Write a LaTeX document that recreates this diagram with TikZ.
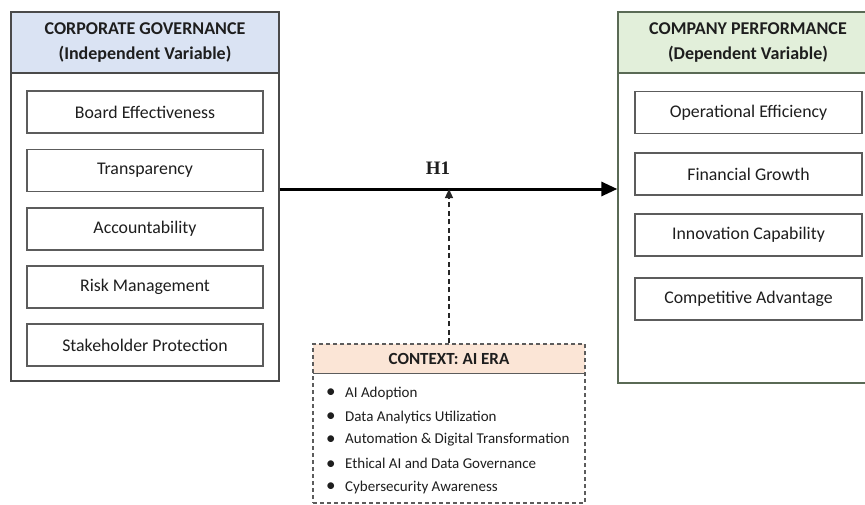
\documentclass[tikz,border=0pt]{standalone}
\usepackage{fontspec}
\setmainfont{Carlito}
\newfontfamily\hyfont{Liberation Serif}
\usetikzlibrary{arrows.meta}
\definecolor{cgblue}{HTML}{DAE3F3}
\definecolor{cpgreen}{HTML}{E2EFDA}
\definecolor{ctxpeach}{HTML}{FBE5D6}
\definecolor{framegray}{HTML}{4A4A4A}
\definecolor{framegreen}{HTML}{5A6A55}
\definecolor{itemgray}{HTML}{5C5C5C}
\definecolor{txt}{HTML}{1E1E1E}
\newcommand{\ctxbullet}{\makebox[19pt][l]{\raisebox{-0.5pt}{\fontsize{19}{17}\selectfont •}}}
\begin{document}
\begin{tikzpicture}[x=1pt,y=-1pt,
  outerbox/.style={draw=framegray, line width=1.3pt, inner sep=0pt},
  headbox/.style={draw=framegray, line width=1.3pt, align=center, inner sep=0pt,
    font=\fontsize{18}{25}\selectfont\bfseries, text=txt},
  itembox/.style={draw=itemgray, line width=1.1pt, minimum height=42pt, inner sep=0pt,
    font=\fontsize{17.8}{20}\selectfont, text=txt},
  bulletitem/.style={anchor=west, inner sep=0pt, font=\fontsize{15}{17}\selectfont, text=txt},
  mainarrow/.style={line width=3pt, draw=black, -{Triangle[length=16pt,width=14pt]}},
  ctxarrow/.style={line width=1.2pt, draw=black!85, dash pattern=on 5pt off 3.5pt,
    -{Triangle[length=9pt,width=8pt]}}
]
\useasboundingbox (0,0) rectangle (865,504);
\fill[white] (0,0) rectangle (865,504);

% Corporate governance block
\node[outerbox, minimum width=268pt, minimum height=369pt] (cg) at (145,196.5) {};
\node[headbox, fill=cgblue, minimum width=268pt, minimum height=61pt, anchor=north]
  (cghead) at (cg.north) {CORPORATE GOVERNANCE\\(Independent Variable)};
\node[itembox, minimum width=236pt] (cg1) at (145,112)   {Board Effectiveness};
\node[itembox, minimum width=236pt] (cg2) at (145,170.5) {Transparency};
\node[itembox, minimum width=236pt] (cg3) at (145,229)   {Accountability};
\node[itembox, minimum width=236pt] (cg4) at (145,287)   {Risk Management};
\node[itembox, minimum width=236pt] (cg5) at (145,345)   {Stakeholder Protection};

% Company performance block
\node[outerbox, draw=framegreen, minimum width=260pt, minimum height=371pt] (cp) at (748,197.5) {};
\node[headbox, draw=framegreen, fill=cpgreen, minimum width=260pt, minimum height=61pt, anchor=north]
  (cphead) at (cp.north) {COMPANY PERFORMANCE\\(Dependent Variable)};
\node[itembox, minimum width=227pt] (cp1) at (748.5,112.5) {Operational Efficiency};
\node[itembox, minimum width=227pt] (cp2) at (748.5,174)   {Financial Growth};
\node[itembox, minimum width=227pt] (cp3) at (748.5,235)   {Innovation Capability};
\node[itembox, minimum width=227pt] (cp4) at (748.5,299)   {Competitive Advantage};

% AI era context block
\node[fill=ctxpeach, minimum width=272pt, minimum height=29pt, inner sep=0pt,
  font=\fontsize{17}{20}\selectfont\bfseries, text=txt] (ctxhead) at (449,358.5) {CONTEXT: AI ERA};
\draw[itemgray, line width=1.1pt] (ctxhead.south west) -- (ctxhead.south east);
\node[draw=itemgray, line width=1.2pt, dash pattern=on 4pt off 3pt, inner sep=0pt,
  minimum width=272pt, minimum height=159pt] (ctx) at (449,423.5) {};
\node[bulletitem] (ai1) at (326,393) {\ctxbullet AI Adoption};
\node[bulletitem] (ai2) at (326,417) {\ctxbullet Data Analytics Utilization};
\node[bulletitem] (ai3) at (326,440) {\ctxbullet Automation \& Digital Transformation};
\node[bulletitem] (ai4) at (326,464) {\ctxbullet Ethical AI and Data Governance};
\node[bulletitem] (ai5) at (326,487) {\ctxbullet Cybersecurity Awareness};

% Hypothesis and moderating context
\coordinate (h1line) at (450,189);
\draw[mainarrow] (cg.east |- h1line) -- (cp.west |- h1line);
\node[font=\fontsize{19}{22}\selectfont\hyfont\bfseries, text=txt] (h1) at (438,168) {H1};
\draw[ctxarrow] (ctx.north) -- (ctx.north |- h1line);
\end{tikzpicture}
\end{document}
